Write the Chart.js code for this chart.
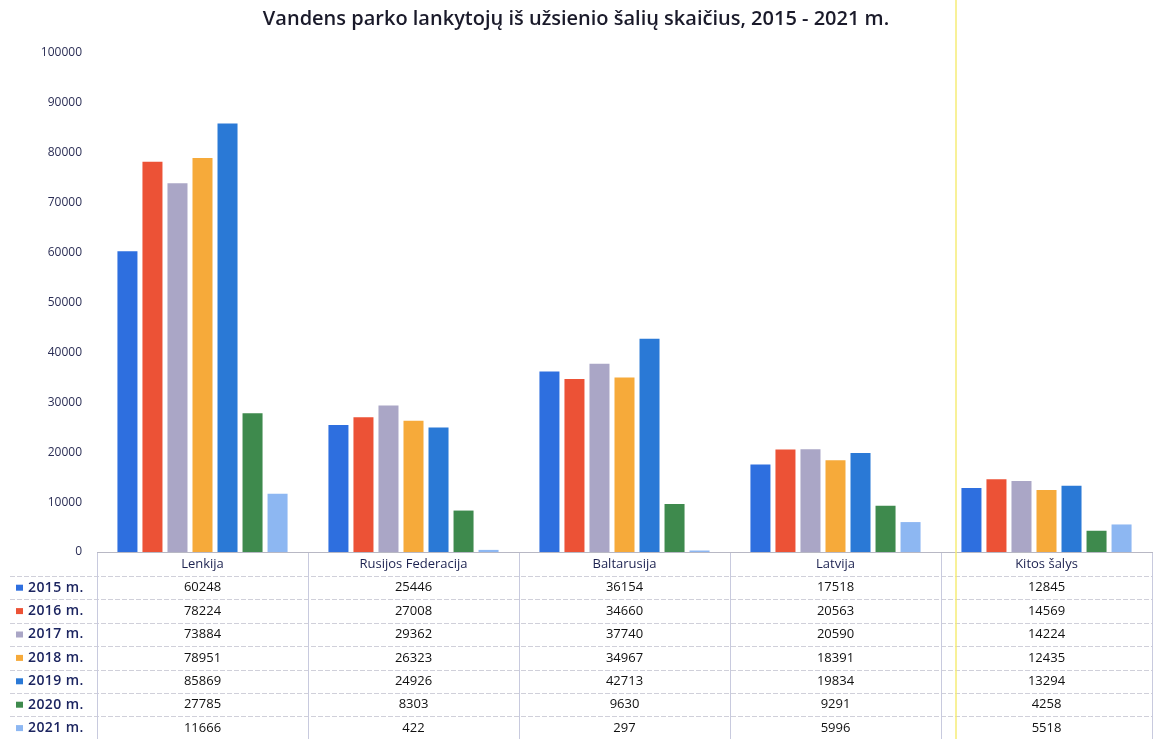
<!DOCTYPE html>
<html>
<head>
<meta charset="utf-8">
<script src="https://cdn.jsdelivr.net/npm/chart.js@4.4.1/dist/chart.umd.min.js"></script>
<style>
  html, body { margin: 0; padding: 0; background: #fff; }
  #wrap { position: relative; width: 1155px; height: 739px; }
  #scanline { position: absolute; left: 955px; top: 0; width: 2px; height: 739px; background: rgba(245, 235, 110, 0.7); pointer-events: none; }
</style>
</head>
<body>
<div id="wrap">
  <canvas id="chart" width="1155" height="739"></canvas>
  <div id="scanline"></div>
</div>
<script>
// Vandens parko lankytojai pagal šalis

const countries = ['Lenkija', 'Rusijos Federacija', 'Baltarusija', 'Latvija', 'Kitos šalys'];
const years = ['2015 m.', '2016 m.', '2017 m.', '2018 m.', '2019 m.', '2020 m.', '2021 m.'];

const v2015 = [60248, 25446, 36154, 17518, 12845];
const v2016 = [78224, 27008, 34660, 20563, 14569];
const v2017 = [73884, 29362, 37740, 20590, 14224];
const v2018 = [78951, 26323, 34967, 18391, 12435];
const v2019 = [85869, 24926, 42713, 19834, 13294];
const v2020 = [27785, 8303, 9630, 9291, 4258];
const v2021 = [11666, 422, 297, 5996, 5518];

const yTicks = [0, 10000, 20000, 30000, 40000, 50000, 60000, 70000, 80000, 90000, 100000];

const colors = ['#2e6fdf', '#ec5236', '#aaa6c6', '#f6aa3a', '#2a79d6', '#3e8a4d', '#8db7f2'];
const series = [v2015, v2016, v2017, v2018, v2019, v2020, v2021];

const FONT = '"Open Sans", Lato, sans-serif';

// data table under the bars
const tablePlugin = {
    id: 'dataTable',
    afterDraw(chart) {
        const ctx = chart.ctx;
        const x = chart.scales.x;
        const area = chart.chartArea;
        const half = (x.getPixelForValue(1) - x.getPixelForValue(0)) / 2;
        const top = area.bottom + 1;
        const headH = 23;
        const rowH = 23.4;
        const left = 10;
        const right = x.getPixelForValue(countries.length - 1) + half;

        ctx.save();
        // horizontal lines
        ctx.strokeStyle = '#d0d0da';
        ctx.lineWidth = 1;
        ctx.setLineDash([5, 2]);
        for (let r = 0; r <= years.length; r++) {
            const y = Math.round(top + headH + r * rowH) + 0.5;
            ctx.beginPath();
            ctx.moveTo(left, y);
            ctx.lineTo(right, y);
            ctx.stroke();
        }
        ctx.setLineDash([]);
        // vertical lines
        ctx.strokeStyle = '#c8cade';
        for (let c = 0; c <= countries.length; c++) {
            const xx = Math.round(x.getPixelForValue(0) - half + c * half * 2) + 0.5;
            ctx.beginPath();
            ctx.moveTo(xx, top);
            ctx.lineTo(xx, 739);
            ctx.stroke();
        }

        ctx.textBaseline = 'middle';
        // header
        ctx.textAlign = 'center';
        ctx.fillStyle = '#1c2250';
        ctx.font = '500 13px ' + FONT;
        countries.forEach((c, i) => {
            ctx.fillText(c, x.getPixelForValue(i), top + headH / 2);
        });

        // rows
        years.forEach((yr, r) => {
            const cy = top + headH + r * rowH + rowH / 2;
            ctx.fillStyle = colors[r];
            ctx.fillRect(16, cy - 3, 7, 6);
            ctx.textAlign = 'left';
            ctx.fillStyle = '#1c2560';
            ctx.font = '600 14px ' + FONT;
            ctx.letterSpacing = '0.4px';
            ctx.fillText(yr, 28, cy);
            ctx.letterSpacing = '0px';
            ctx.textAlign = 'center';
            ctx.fillStyle = '#111';
            ctx.font = '500 13px ' + FONT;
            series[r].forEach((v, i) => {
                ctx.fillText(String(v), x.getPixelForValue(i), cy);
            });
        });
        ctx.restore();
    }
};

new Chart(document.getElementById('chart'), {
    type: 'bar',
    data: {
        labels: countries,
        datasets: years.map((yr, i) => ({
            label: yr,
            data: series[i],
            backgroundColor: colors[i],
            borderWidth: 0,
            categoryPercentage: 0.83,
            barPercentage: 0.8
        }))
    },
    options: {
        responsive: false,
        animation: false,
        layout: { padding: { left: 0, right: 3, top: 0, bottom: 187 } },
        plugins: {
            legend: { display: false },
            tooltip: { enabled: false },
            title: {
                display: true,
                text: 'Vandens parko lankytojų iš užsienio šalių skaičius, 2015 - 2021 m.',
                color: '#1a1a2a',
                font: { family: FONT, size: 20, weight: '600' },
                padding: { top: 7, bottom: 22 }
            }
        },
        scales: {
            x: {
                grid: { display: false },
                border: { display: true, color: '#b8b8c4' },
                ticks: { display: false },
                afterFit: s => { s.height = 0; }
            },
            y: {
                min: 0,
                max: 100000,
                afterBuildTicks: s => { s.ticks = yTicks.map(v => ({ value: v })); },
                grid: { display: false },
                border: { display: false },
                ticks: {
                    color: '#2a2d55',
                    font: { family: FONT, size: 12, weight: '500' },
                    padding: 7,
                    callback: v => String(v)
                },
                afterFit: s => { s.width = 97; }
            }
        }
    },
    plugins: [tablePlugin]
});
</script>
</body>
</html>
